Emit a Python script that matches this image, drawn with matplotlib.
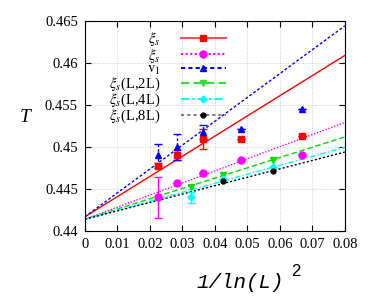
import matplotlib
matplotlib.use("Agg")
import matplotlib.pyplot as plt
import numpy as np
from matplotlib.lines import Line2D

plt.rcParams['font.family'] = ['Liberation Serif', 'DejaVu Serif']
plt.rcParams['mathtext.fontset'] = 'stix'

# x values are 1/ln(L)^2
x_big = [0.02265, 0.02824, 0.0362, 0.0480, 0.0667]     # L = 768..48

T_g = [0.4478, 0.4490, 0.4510, 0.4510, 0.4513]
err_g = [0.0003, 0.0006, 0.0012, 0.0, 0.0]
T_xi = [0.4440, 0.4457, 0.4469, 0.4485, 0.4490]
err_xi = [0.0024, 0.0, 0.0, 0.0, 0.0]
T_v = [0.4491, 0.4500, 0.4518, 0.4521, 0.4545]
err_v = [0.0013, 0.0015, 0.0008, 0.0, 0.0]

x_r2 = [0.03253, 0.04247, 0.0578]
T_r2 = [0.4452, 0.4467, 0.4485]
x_r4 = [0.03253, 0.04247, 0.0578]
T_r4 = [0.4440, 0.4462, 0.4476]
err_r4 = [0.0007, 0.0, 0.0]
x_r8 = [0.04247, 0.0578]
T_r8 = [0.4460, 0.4471]

# linear fits (intercept, slope)
fit_g = (0.4417, 0.24)
fit_xi = (0.4414, 0.144)
fit_v = (0.4417, 0.284)
fit_r2 = (0.4414, 0.1225)
fit_r4 = (0.4414, 0.107)
fit_r8 = (0.4414, 0.100)

fig = plt.figure(figsize=(3.74, 3.04), dpi=100)
ax = fig.add_axes([0.227, 0.240, 0.695, 0.691])

xf = np.array([0, 0.08])
ax.plot(xf, fit_g[0] + fit_g[1] * xf, color='red', lw=1.0, ls='-')
ax.plot(xf, fit_v[0] + fit_v[1] * xf, color='blue', lw=1.0, ls=(0, (2, 1.5)))
ax.plot(xf, fit_xi[0] + fit_xi[1] * xf, color='magenta', lw=1.0, ls=(0, (1, 1.2)))
ax.plot(xf, fit_r2[0] + fit_r2[1] * xf, color='#00dd00', lw=1.0, ls=(0, (4, 2)))
ax.plot(xf, fit_r4[0] + fit_r4[1] * xf, color='cyan', lw=1.0, ls=(0, (4, 1.5, 1, 1.5)))
ax.plot(xf, fit_r8[0] + fit_r8[1] * xf, color='black', lw=1.0, ls=(0, (1.5, 1.5)))

ax.errorbar(x_big, T_g, yerr=err_g, fmt='s', color='red', ms=5, capsize=3, elinewidth=1)
ax.errorbar(x_big, T_xi, yerr=err_xi, fmt='o', color='magenta', ms=5, capsize=3,
            elinewidth=1, ecolor='magenta')
eb = ax.errorbar(x_big, T_v, yerr=err_v, fmt='^', color='blue', ms=4.5, capsize=3, elinewidth=1)
eb[2][0].set_linestyle((0, (2, 1.5)))
ax.errorbar(x_r2, T_r2, fmt='v', color='#00dd00', ms=5)
ax.errorbar(x_r4, T_r4, yerr=err_r4, fmt='D', color='cyan', ms=3.5, capsize=3, elinewidth=1)
ax.errorbar(x_r8, T_r8, fmt='o', color='black', ms=3.5)

handles = [
    Line2D([], [], color='#ff5050', ls='-', marker='s', ms=5, mfc='red', mec='red'),
    Line2D([], [], color='magenta', ls=(0, (1, 1.2)), marker='o', ms=5),
    Line2D([], [], color='blue', ls=(0, (2, 1.5)), marker='^', ms=4.5),
    Line2D([], [], color='#33dd33', ls=(0, (4, 2)), marker='v', ms=5),
    Line2D([], [], color='cyan', ls=(0, (4, 1.5, 1, 1.5)), marker='D', ms=3.5),
    Line2D([], [], color='gray', ls=(0, (1.5, 1.5)), marker='o', ms=3.5, mfc='black', mec='black'),
]
labels = [r'$\xi_s$', r'$\xi_s$', r'$\mathrm{v}_1$',
          r'$\xi_s$(L,2L)', r'$\xi_s$(L,4L)', r'$\xi_s$(L,8L)']
ax.legend(handles, labels, loc='upper right', bbox_to_anchor=(226 / 374, 1 - 30 / 304),
          bbox_transform=fig.transFigure, frameon=False, borderpad=0, borderaxespad=0,
          markerfirst=False, handlelength=3.1, fontsize=10.5, labelspacing=-0.1,
          handletextpad=1.4)

ax.set_xlim(0, 0.08)
ax.set_ylim(0.44, 0.465)
ax.set_xticks(np.arange(0, 0.081, 0.01))
ax.set_xticklabels(['0', '0.01', '0.02', '0.03', '0.04', '0.05', '0.06', '0.07', '0.08'])
ax.set_yticks([0.44, 0.445, 0.45, 0.455, 0.46, 0.465])
ax.set_yticklabels(['0.44', '0.445', '0.45', '0.455', '0.46', '0.465'])
ax.tick_params(direction='in', top=True, right=True, labelsize=10.5, length=4, pad=5)
ax.grid(True, color='#bbbbbb', ls=(0, (1, 2)), lw=0.6)

ax.set_ylabel('T', fontsize=14, style='italic', rotation=0, labelpad=14)
fig.text(240 / 374, 1 - 282 / 304, '1/ln(L)', fontsize=15, family='Liberation Mono',
         style='italic', ha='center', va='center')
fig.text(296 / 374, 1 - 272 / 304, '2', fontsize=12, family='Liberation Sans',
         ha='center', va='center')

fig.savefig('out.png', dpi=100)
